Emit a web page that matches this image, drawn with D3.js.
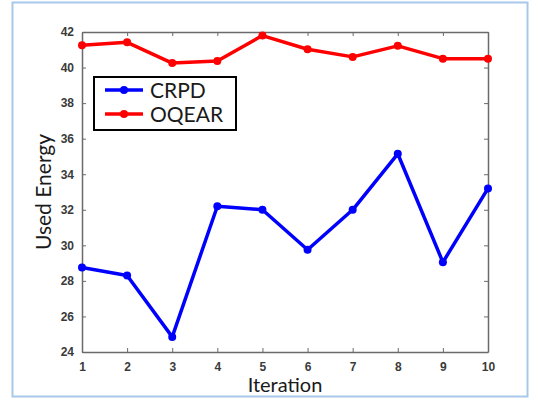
<!DOCTYPE html>
<html>
<head>
<meta charset="utf-8">
<script src="https://cdn.jsdelivr.net/npm/d3@7"></script>
<style>
  body { margin: 0; background: #fff; }
  .tick text { font-family: Arial, "Liberation Sans", sans-serif; font-weight: bold; font-size: 12px; fill: #3a3a3a; }
</style>
</head>
<body>
<div id="chart"></div>
<script>
const iterations = [1, 2, 3, 4, 5, 6, 7, 8, 9, 10];
const crpd = [28.75, 28.3, 24.85, 32.2, 32.0, 29.75, 32.0, 35.15, 29.05, 33.2];
const oqear = [41.25, 41.42, 40.25, 40.37, 41.8, 41.03, 40.6, 41.22, 40.5, 40.5];
const yTicks = [24, 26, 28, 30, 32, 34, 36, 38, 40, 42];
const seriesNames = ['CRPD', 'OQEAR'];
const seriesColors = ['#0000ff', '#ff0000'];

const dimensions = {
  width: 539,
  height: 400,
  margin: { top: 32, bottom: 48, left: 82, right: 51 }
};
dimensions.containerWidth = dimensions.width - dimensions.margin.left - dimensions.margin.right;
dimensions.containerHeight = dimensions.height - dimensions.margin.top - dimensions.margin.bottom;

const svg = d3.select('#chart')
  .append('svg')
  .attr('width', dimensions.width)
  .attr('height', dimensions.height);

// outer frame
svg.append('rect')
  .attr('x', 12.5).attr('y', 2.5)
  .attr('width', 515).attr('height', 394)
  .attr('fill', '#fff')
  .attr('stroke', '#a8c8ea')
  .attr('stroke-width', 2);

const container = svg.append('g')
  .attr('transform', `translate(${dimensions.margin.left}, ${dimensions.margin.top})`);

const xScale = d3.scaleLinear()
  .domain([1, 10])
  .range([0, dimensions.containerWidth]);

const yScale = d3.scaleLinear()
  .domain([24, 42])
  .range([dimensions.containerHeight, 0]);

const axisColor = '#6a6a6a';
const styleAxis = (g) => {
  g.select('.domain').attr('stroke', axisColor).attr('stroke-width', 1.5);
  g.selectAll('.tick line').attr('stroke', axisColor);
};

container.append('g')
  .attr('transform', `translate(0, ${dimensions.containerHeight})`)
  .call(d3.axisBottom(xScale).tickValues(iterations).tickSizeInner(-4).tickSizeOuter(0).tickPadding(10))
  .call(styleAxis);

container.append('g')
  .call(d3.axisTop(xScale).tickValues(iterations).tickSizeInner(-4).tickSizeOuter(0).tickFormat(''))
  .call(styleAxis);

container.append('g')
  .call(d3.axisLeft(yScale).tickValues(yTicks).tickSizeInner(-4).tickSizeOuter(0).tickPadding(8))
  .call(styleAxis);

container.append('g')
  .attr('transform', `translate(${dimensions.containerWidth}, 0)`)
  .call(d3.axisRight(yScale).tickValues(yTicks).tickSizeInner(-4).tickSizeOuter(0).tickFormat(''))
  .call(styleAxis);

const line = d3.line()
  .x((d, i) => xScale(iterations[i]))
  .y((d) => yScale(d));

[crpd, oqear].forEach((values, s) => {
  container.append('path')
    .datum(values)
    .attr('fill', 'none')
    .attr('stroke', seriesColors[s])
    .attr('stroke-width', 3.5)
    .attr('stroke-linejoin', 'round')
    .attr('d', line);

  container.append('g')
    .selectAll('circle')
    .data(values)
    .join('circle')
    .attr('cx', (d, i) => xScale(iterations[i]))
    .attr('cy', (d) => yScale(d))
    .attr('r', 4)
    .attr('fill', seriesColors[s]);
});

// legend
const legend = svg.append('g').attr('transform', 'translate(94, 77)');
legend.append('rect')
  .attr('width', 142).attr('height', 53)
  .attr('fill', '#fff')
  .attr('stroke', '#000')
  .attr('stroke-width', 2);

seriesNames.forEach((name, s) => {
  const y = 13 + s * 24;
  legend.append('line')
    .attr('x1', 11).attr('x2', 49)
    .attr('y1', y).attr('y2', y)
    .attr('stroke', seriesColors[s])
    .attr('stroke-width', 3.5);
  legend.append('circle')
    .attr('cx', 30).attr('cy', y).attr('r', 4)
    .attr('fill', seriesColors[s]);
  legend.append('text')
    .attr('x', 56).attr('y', y)
    .attr('dy', '0.36em')
    .attr('font-family', 'Lato, sans-serif')
    .attr('font-size', 21)
    .attr('fill', '#1a1a1a')
    .text(name);
});

svg.append('text')
  .attr('x', dimensions.margin.left + dimensions.containerWidth / 2)
  .attr('y', 392)
  .attr('text-anchor', 'middle')
  .attr('font-family', 'Lato, sans-serif')
  .attr('font-size', 20)
  .attr('fill', '#1a1a1a')
  .text('Iteration');

svg.append('text')
  .attr('transform', `translate(51, ${dimensions.margin.top + dimensions.containerHeight / 2}) rotate(-90)`)
  .attr('text-anchor', 'middle')
  .attr('font-family', 'Lato, sans-serif')
  .attr('font-size', 21)
  .attr('fill', '#1a1a1a')
  .text('Used Energy');
</script>
</body>
</html>
